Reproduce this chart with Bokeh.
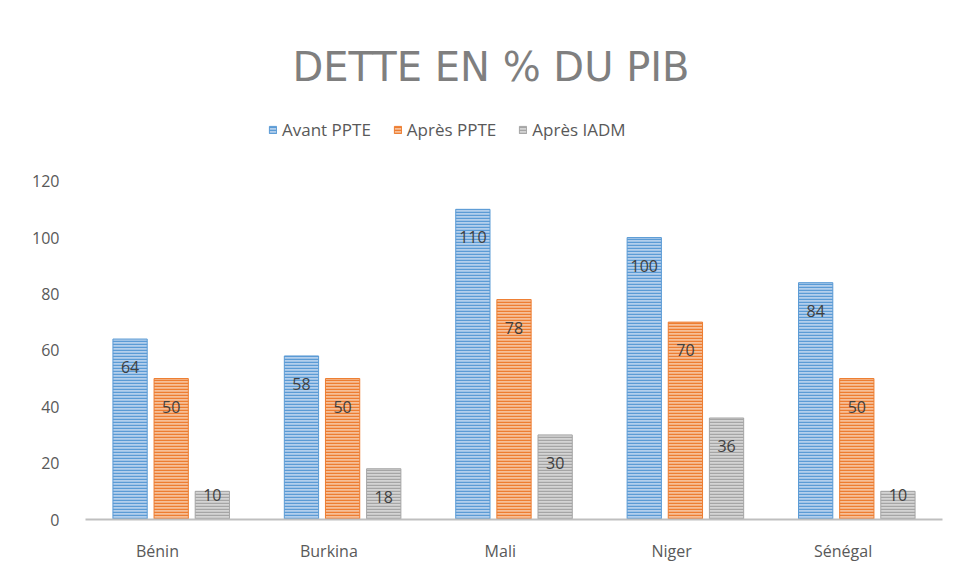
import numpy as np
from bokeh.plotting import figure
from bokeh.models import (ColumnDataSource, Range1d, FixedTicker,
                          CustomJSTickFormatter, Legend, LegendItem)
from bokeh.core.properties import value
from bokeh.embed import file_html
from bokeh.resources import INLINE

# ---- data ----
countries = ["Bénin", "Burkina", "Mali", "Niger", "Sénégal"]
series_names = ["Avant PPTE", "Après PPTE", "Après IADM"]
avant_ppte = [64, 58, 110, 100, 84]
apres_ppte = [50, 50, 78, 70, 50]
apres_iadm = [10, 18, 30, 36, 10]
y_ticks = [0, 20, 40, 60, 80, 100, 120]

series = [avant_ppte, apres_ppte, apres_iadm]
fills = ["#b4cfec", "#f6bf98", "#d4d4d4"]
hatches = ["#5b9bd5", "#ed7d31", "#a5a5a5"]
offsets = [-0.24, 0.0, 0.24]
FONT = "Open Sans"

idx = np.arange(len(countries)) + 0.5   # category slot centres

p = figure(x_range=Range1d(0, len(countries)), y_range=Range1d(0, 148.6),
           width=950, height=564, output_backend="svg", toolbar_location=None,
           min_border_left=85, min_border_right=8,
           min_border_bottom=38, min_border_top=100)
p.outline_line_color = None
p.grid.visible = False
p.background_fill_color = "white"
p.border_fill_color = "white"

# title
p.title.text = "DETTE EN % DU PIB"
p.title.align = "left"
p.title.offset = 207
p.title.text_font = "DejaVu Sans"
p.title.text_font_size = "40px"
p.title.text_font_style = "normal"
p.title.text_color = "#7f7f7f"
p.title.standoff = 22

items = []
for vals, name, fc, hc, off in zip(series, series_names, fills, hatches, offsets):
    arr = np.array(vals)
    xs = idx + off
    src = ColumnDataSource(dict(x=xs, top=arr))
    r = p.vbar(x="x", top="top", width=0.2, source=src,
               fill_color=fc, line_color=hc, line_width=1,
               hatch_pattern="horizontal_line", hatch_color=hc, hatch_scale=3, hatch_weight=1.5)
    items.append(LegendItem(label=name, renderers=[r]))
    big = arr > 15
    for mask, yo in ((big, 28), (~big, 4)):
        s = ColumnDataSource(dict(x=xs[mask], y=arr[mask], lab=[str(v) for v in arr[mask]]))
        p.text(x="x", y="y", text="lab", source=s,
               text_align="center", text_baseline="middle", y_offset=yo,
               text_font=value(FONT), text_font_size="16px", text_color="#404040")

legend = Legend(items=items, orientation="horizontal", location=(183, 378),
                label_text_font=FONT, label_text_font_size="17px", label_text_color="#595959",
                glyph_width=9, glyph_height=9, spacing=22, padding=0, margin=0,
                border_line_color=None, background_fill_alpha=0, label_standoff=5)
p.add_layout(legend, "center")

# y axis
p.yaxis.ticker = FixedTicker(ticks=y_ticks)
p.yaxis.axis_line_color = None
p.yaxis.major_tick_line_color = None
p.yaxis.minor_tick_line_color = None
p.yaxis.major_label_text_font = FONT
p.yaxis.major_label_text_font_size = "16px"
p.yaxis.major_label_text_color = "#595959"
p.yaxis.major_label_standoff = 20

# x axis (labels sit slightly left of each bar group)
xa = p.xaxis[0]
xa.ticker = FixedTicker(ticks=list(idx - 0.08))
xa.formatter = CustomJSTickFormatter(args=dict(cats=countries),
                                     code="return cats[Math.floor(tick)];")
xa.axis_line_color = "#bfbfbf"
xa.axis_line_width = 2
xa.major_tick_line_color = None
xa.minor_tick_line_color = None
xa.major_label_text_font = FONT
xa.major_label_text_font_size = "16px"
xa.major_label_text_color = "#595959"
xa.major_label_standoff = 14

open("out.html", "w").write(file_html(p, INLINE))
